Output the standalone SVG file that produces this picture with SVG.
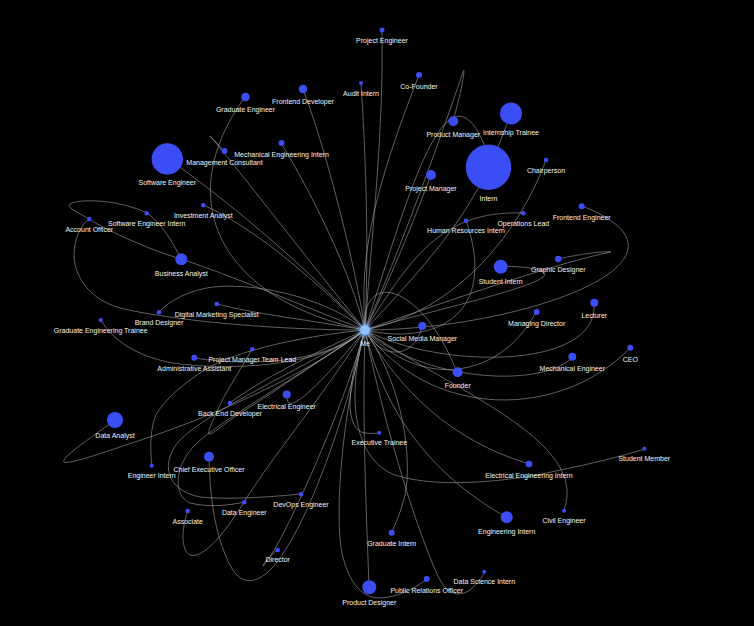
<svg xmlns="http://www.w3.org/2000/svg" width="754" height="626" viewBox="0 0 754 626">
<defs>
<style>
.e{fill:none;stroke:#a8a8a8;stroke-opacity:0.72;stroke-width:0.8}
.n{fill:#3b4ef5}
.t{font-family:"Liberation Sans",Arial,sans-serif;font-size:7px;fill:#f4f4f4;text-anchor:middle}
</style>
<filter id="glow" x="-2" y="-2" width="5" height="5"><feGaussianBlur stdDeviation="2"/></filter>
</defs>
<rect width="754" height="626" fill="#000"/>
<g id="connectors">
<path class="e" d="M365,330 C372,230 384,130 382,30"/>
<path class="e" d="M365,330 C369,250 366,160 361,83"/>
<path class="e" d="M365,330 C360,260 370,200 419,75"/>
<path class="e" d="M365,330 C358,280 330,160 303,89"/>
<path class="e" d="M365,330 C220,300 170,200 245,97"/>
<path class="e" d="M365,330 C350,270 310,190 281,143"/>
<path class="e" d="M365,330 C300,250 235,165 210,136 C215,141 220,146 224,151"/>
<path class="e" d="M365,330 C300,260 220,195 167,158"/>
<path class="e" d="M365,330 C310,275 250,225 203,205"/>
<path class="e" d="M365,330 C300,305 230,275 181,259 C150,250 110,232 89,219 C78,212 66,208 70,204 C80,198 120,200 147,213 C160,222 172,240 181,259"/>
<path class="e" d="M365,330 C270,330 170,320 120,308 C85,298 70,270 75,245 C77,232 83,224 89,219"/>
<path class="e" d="M365,330 C330,300 260,282 213,287 C190,290 170,300 159,312"/>
<path class="e" d="M365,330 C310,320 260,315 217,304"/>
<path class="e" d="M365,330 C320,370 220,370 173,363 C145,358 115,345 101,320"/>
<path class="e" d="M365,330 C320,360 270,395 242,412 C225,423 212,435 209,434 C207,432 215,415 225,395 C235,378 246,360 252,349"/>
<path class="e" d="M365,330 C330,360 260,368 194,358"/>
<path class="e" d="M365,330 C310,355 260,380 230,403"/>
<path class="e" d="M365,330 C320,385 285,420 287,395"/>
<path class="e" d="M365,330 C300,380 200,420 150,437 C110,450 70,465 64,462 C60,458 95,435 115,420"/>
<path class="e" d="M365,330 C310,335 235,350 205,370 C180,385 160,405 155,417 C150,432 150,450 152,466"/>
<path class="e" d="M365,330 C340,440 300,540 270,570 C255,585 240,585 230,565 C215,535 210,500 209,457"/>
<path class="e" d="M365,330 C300,370 210,410 180,440 C160,462 165,490 200,497 C230,500 270,497 301,494"/>
<path class="e" d="M365,330 C310,370 220,420 195,445 C175,465 172,495 190,503 C210,508 230,505 245,502"/>
<path class="e" d="M365,330 C320,400 270,460 244,502 C230,525 205,560 190,555 C180,550 182,525 188,511"/>
<path class="e" d="M365,330 C345,400 310,480 285,530 C275,550 265,565 263,566 C262,565 270,556 277,550"/>
<path class="e" d="M365,330 C362,420 366,500 369,587"/>
<path class="e" d="M365,330 C340,420 335,520 342,553 C348,580 360,598 380,598 C400,597 415,588 427,579"/>
<path class="e" d="M365,330 C385,430 420,540 440,580 C448,595 460,597 470,590 C478,583 482,577 485,572"/>
<path class="e" d="M365,330 C405,390 412,460 405,495 C400,515 395,525 391,533"/>
<path class="e" d="M365,330 C345,390 345,430 365,433 C372,434 376,433 379,433"/>
<path class="e" d="M365,330 C345,400 355,460 395,475 C440,490 520,480 560,470 C600,462 625,455 645,449"/>
<path class="e" d="M365,330 C400,390 450,440 529,464"/>
<path class="e" d="M365,330 C385,420 440,480 506,517"/>
<path class="e" d="M365,330 C450,390 590,440 564,510"/>
<path class="e" d="M365,330 C430,420 560,420 630,348"/>
<path class="e" d="M365,330 C420,380 540,390 573,357"/>
<path class="e" d="M365,330 C420,390 500,380 536,312"/>
<path class="e" d="M365,330 C360,270 420,280 457,372"/>
<path class="e" d="M365,330 C380,360 415,360 422,326"/>
<path class="e" d="M365,330 C440,370 600,370 594,303"/>
<path class="e" d="M365,330 C430,345 500,320 466,220"/>
<path class="e" d="M365,330 C410,260 440,210 523,213"/>
<path class="e" d="M365,330 C470,300 620,270 501,266"/>
<path class="e" d="M365,330 C450,300 560,262 611,252 C604,251 580,254 558,259"/>
<path class="e" d="M365,330 C520,330 720,260 582,206"/>
<path class="e" d="M365,330 C460,310 520,230 546,160"/>
<path class="e" d="M365,330 C410,190 450,40 490,160"/>
<path class="e" d="M365,330 C400,250 440,140 463,72 C466,64 462,90 453,121"/>
<path class="e" d="M365,330 C450,240 480,200 511,113"/>
<path class="e" d="M365,330 C390,280 410,230 431,175"/>
</g>
<g id="node-project-engineer"><circle class="n" cx="382" cy="30" r="2.5"/><text class="t" x="382" y="43">Project Engineer</text></g>
<g id="node-audit-intern"><circle class="n" cx="361" cy="83" r="2"/><text class="t" x="361" y="96">Audit Intern</text></g>
<g id="node-co-founder"><circle class="n" cx="419" cy="75" r="3"/><text class="t" x="419" y="89">Co-Founder</text></g>
<g id="node-frontend-developer"><circle class="n" cx="303" cy="89" r="4.3"/><text class="t" x="303" y="104">Frontend Developer</text></g>
<g id="node-graduate-engineer"><circle class="n" cx="245.5" cy="97" r="4.3"/><text class="t" x="245.5" y="112">Graduate Engineer</text></g>
<g id="node-mechanical-engineering-intern"><circle class="n" cx="281.5" cy="143" r="3"/><text class="t" x="281.5" y="157">Mechanical Engineering Intern</text></g>
<g id="node-management-consultant"><circle class="n" cx="224.5" cy="151" r="3"/><text class="t" x="224.5" y="165">Management Consultant</text></g>
<g id="node-software-engineer"><circle class="n" cx="167.3" cy="159" r="15.7"/><text class="t" x="167.3" y="185">Software Engineer</text></g>
<g id="node-product-manager"><circle class="n" cx="453.3" cy="121.3" r="5"/><text class="t" x="453.3" y="137">Product Manager</text></g>
<g id="node-internship-trainee"><circle class="n" cx="511" cy="113.5" r="11"/><text class="t" x="511" y="135">Internship Trainee</text></g>
<g id="node-intern"><circle class="n" cx="488.5" cy="167.3" r="22.7"/><text class="t" x="488.5" y="201">Intern</text></g>
<g id="node-project-manager"><circle class="n" cx="431" cy="175" r="5"/><text class="t" x="431" y="191">Project Manager</text></g>
<g id="node-chairperson"><circle class="n" cx="546" cy="160" r="2.3"/><text class="t" x="546" y="173">Chairperson</text></g>
<g id="node-frontend-engineer"><circle class="n" cx="581.7" cy="206.3" r="3"/><text class="t" x="581.7" y="220">Frontend Engineer</text></g>
<g id="node-operations-lead"><circle class="n" cx="523.3" cy="213.3" r="2.3"/><text class="t" x="523.3" y="226">Operations Lead</text></g>
<g id="node-human-resources-intern"><circle class="n" cx="466" cy="220.7" r="2.3"/><text class="t" x="466" y="233">Human Resources Intern</text></g>
<g id="node-investment-analyst"><circle class="n" cx="203.3" cy="205.3" r="2.2"/><text class="t" x="203.3" y="218">Investment Analyst</text></g>
<g id="node-software-engineer-intern"><circle class="n" cx="146.7" cy="213.3" r="2.2"/><text class="t" x="146.7" y="226">Software Engineer Intern</text></g>
<g id="node-account-officer"><circle class="n" cx="89.3" cy="219" r="2.2"/><text class="t" x="89.3" y="232">Account Officer</text></g>
<g id="node-business-analyst"><circle class="n" cx="181.3" cy="259.3" r="6"/><text class="t" x="181.3" y="276">Business Analyst</text></g>
<g id="node-student-intern"><circle class="n" cx="500.7" cy="266.7" r="7"/><text class="t" x="500.7" y="284">Student Intern</text></g>
<g id="node-graphic-designer"><circle class="n" cx="558.3" cy="259" r="3.3"/><text class="t" x="558.3" y="272">Graphic Designer</text></g>
<g id="node-digital-marketing-specialist"><circle class="n" cx="216.7" cy="304" r="2.3"/><text class="t" x="216.7" y="317">Digital Marketing Specialist</text></g>
<g id="node-brand-designer"><circle class="n" cx="159" cy="312.3" r="2.3"/><text class="t" x="159" y="325">Brand Designer</text></g>
<g id="node-graduate-engineering-trainee"><circle class="n" cx="100.7" cy="320" r="2"/><text class="t" x="100.7" y="333">Graduate Engineering Trainee</text></g>
<g id="node-managing-director"><circle class="n" cx="536.7" cy="312" r="3"/><text class="t" x="536.7" y="326">Managing Director</text></g>
<g id="node-lecturer"><circle class="n" cx="594.3" cy="302.7" r="4"/><text class="t" x="594.3" y="318">Lecturer</text></g>
<g id="node-social-media-manager"><circle class="n" cx="422.3" cy="326" r="4"/><text class="t" x="422.3" y="341">Social Media Manager</text></g>
<g id="node-project-manager-team-lead"><circle class="n" cx="252.3" cy="349.3" r="2.3"/><text class="t" x="252.3" y="362">Project Manager Team Lead</text></g>
<g id="node-administrative-assistant"><circle class="n" cx="194.3" cy="357.7" r="3"/><text class="t" x="194.3" y="371">Administrative Assistant</text></g>
<g id="node-ceo"><circle class="n" cx="630.3" cy="347.7" r="3"/><text class="t" x="630.3" y="362">CEO</text></g>
<g id="node-mechanical-engineer"><circle class="n" cx="572.3" cy="356.7" r="4"/><text class="t" x="572.3" y="371">Mechanical Engineer</text></g>
<g id="node-founder"><circle class="n" cx="457.7" cy="372.3" r="5"/><text class="t" x="457.7" y="388">Founder</text></g>
<g id="node-electrical-engineer"><circle class="n" cx="286.7" cy="394.5" r="4"/><text class="t" x="286.7" y="409">Electrical Engineer</text></g>
<g id="node-back-end-developer"><circle class="n" cx="230" cy="403" r="2.3"/><text class="t" x="230" y="416">Back End Developer</text></g>
<g id="node-data-analyst"><circle class="n" cx="115" cy="420" r="8"/><text class="t" x="115" y="438">Data Analyst</text></g>
<g id="node-executive-trainee"><circle class="n" cx="379.3" cy="432.7" r="2"/><text class="t" x="379.3" y="445">Executive Trainee</text></g>
<g id="node-engineer-intern"><circle class="n" cx="151.7" cy="465.7" r="2"/><text class="t" x="151.7" y="478">Engineer Intern</text></g>
<g id="node-chief-executive-officer"><circle class="n" cx="209" cy="456.7" r="5"/><text class="t" x="209" y="472">Chief Executive Officer</text></g>
<g id="node-student-member"><circle class="n" cx="644.3" cy="448.7" r="2"/><text class="t" x="644.3" y="461">Student Member</text></g>
<g id="node-electrical-engineering-intern"><circle class="n" cx="529" cy="464" r="3.3"/><text class="t" x="529" y="478">Electrical Engineering Intern</text></g>
<g id="node-devops-engineer"><circle class="n" cx="301" cy="494.3" r="2.3"/><text class="t" x="301" y="507">DevOps Engineer</text></g>
<g id="node-data-engineer"><circle class="n" cx="244.3" cy="502.3" r="2.3"/><text class="t" x="244.3" y="515">Data Engineer</text></g>
<g id="node-associate"><circle class="n" cx="187.7" cy="511" r="2.3"/><text class="t" x="187.7" y="524">Associate</text></g>
<g id="node-civil-engineer"><circle class="n" cx="564" cy="510.7" r="2"/><text class="t" x="564" y="523">Civil Engineer</text></g>
<g id="node-engineering-intern"><circle class="n" cx="506.7" cy="517.3" r="6"/><text class="t" x="506.7" y="534">Engineering Intern</text></g>
<g id="node-director"><circle class="n" cx="277.7" cy="550" r="2.3"/><text class="t" x="277.7" y="562">Director</text></g>
<g id="node-graduate-intern"><circle class="n" cx="391.7" cy="532.7" r="3"/><text class="t" x="391.7" y="546">Graduate Intern</text></g>
<g id="node-data-science-intern"><circle class="n" cx="484.3" cy="571.7" r="2"/><text class="t" x="484.3" y="584">Data Science Intern</text></g>
<g id="node-public-relations-officer"><circle class="n" cx="426.7" cy="579" r="3"/><text class="t" x="426.7" y="593">Public Relations Officer</text></g>
<g id="node-product-designer"><circle class="n" cx="369.3" cy="587.3" r="7"/><text class="t" x="369.3" y="605">Product Designer</text></g>
<g id="node-me"><circle cx="365" cy="330" r="6" fill="#6fa8ff" filter="url(#glow)"/><circle cx="365" cy="330" r="4.8" fill="#8fc3ff"/><text class="t" x="365" y="346">Me</text></g>
</svg>
